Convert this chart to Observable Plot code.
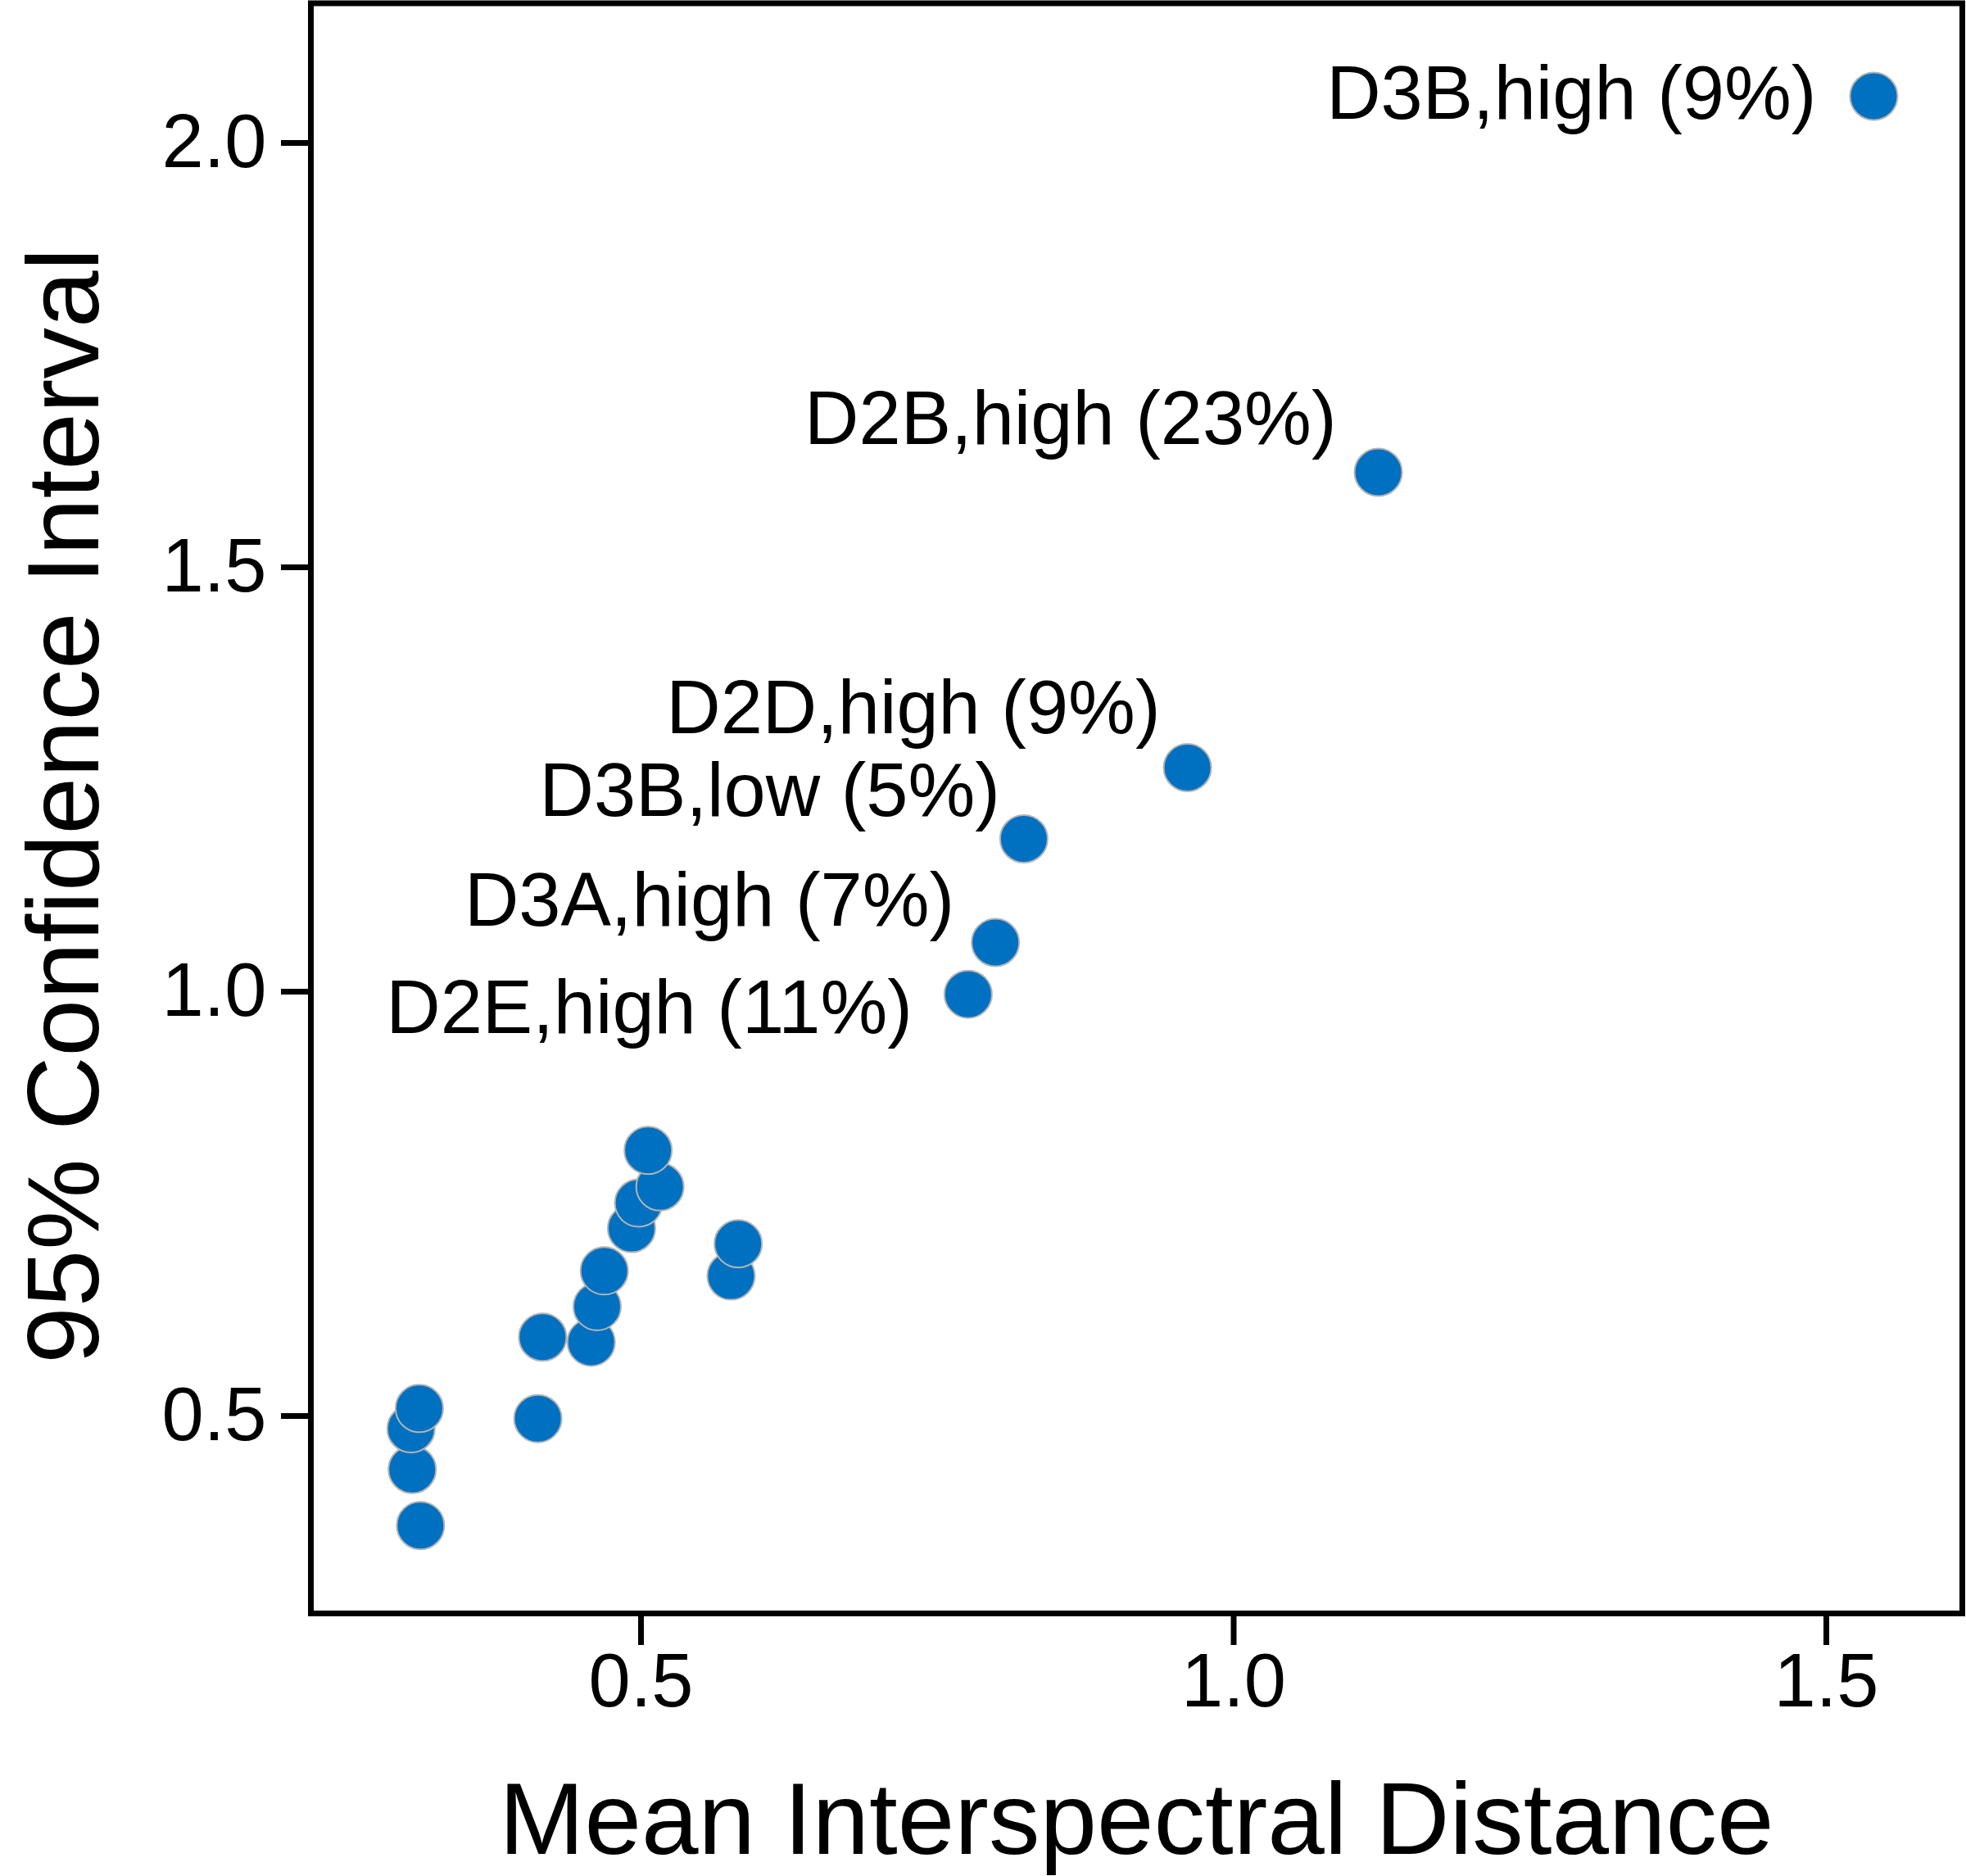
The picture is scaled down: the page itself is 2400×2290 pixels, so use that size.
<!DOCTYPE html>
<html>
<head>
<meta charset="utf-8">
<script src="https://cdn.jsdelivr.net/npm/d3@7"></script>
<script src="https://cdn.jsdelivr.net/npm/@observablehq/plot@0.6"></script>
<style>
  html, body { margin: 0; padding: 0; background: #fff; }
  svg { display: block; }
</style>
</head>
<body>
<script>
// ---- Data ----
const pointLabels = [
  "", "", "", "", "",
  "", "", "", "", "",
  "", "", "", "", "",
  "D2E,high (11%)", "D3A,high (7%)", "D3B,low (5%)", "D2D,high (9%)", "D2B,high (23%)", "D3B,high (9%)"
];
const meanDistance = [
  0.314, 0.307, 0.306, 0.313, 0.413,
  0.417, 0.458, 0.463, 0.469, 0.576,
  0.582, 0.492, 0.498, 0.516, 0.506,
  0.776, 0.799, 0.823, 0.961, 1.122, 1.540
];
const confInterval = [
  0.371, 0.437, 0.485, 0.509, 0.497,
  0.593, 0.587, 0.629, 0.671, 0.665,
  0.703, 0.721, 0.751, 0.770, 0.813,
  0.997, 1.058, 1.180, 1.264, 1.612, 2.055
];
const xTicks = [0.5, 1.0, 1.5];
const yTicks = [0.5, 1.0, 1.5, 2.0];
const xTitle = "Mean Interspectral Distance";
const yTitle = "95% Confidence Interval";

const points = meanDistance.map((x, i) => ({x, y: confInterval[i], label: pointLabels[i]}));

const FONT = "'Liberation Sans', Arial, Helvetica, sans-serif";
const BLUE = "#0070C0";

function labelMark(name, dx, dy) {
  return Plot.text(points.filter(d => d.label === name), {
    x: "x", y: "y", text: "label",
    textAnchor: "end", lineAnchor: "middle",
    dx, dy, fontSize: 92, fill: "black"
  });
}

const chart = Plot.plot({
  width: 2400,
  height: 2290,
  marginLeft: 379,
  marginRight: 5,
  marginTop: 3.5,
  marginBottom: 321,
  style: {fontFamily: FONT, fontSize: "92px", color: "black", background: "white", overflow: "visible"},
  x: {domain: [0.2215, 1.6147]},
  y: {domain: [0.2674, 2.1646]},
  marks: [
    Plot.axisX({ticks: xTicks, tickFormat: d => d.toFixed(1), tickSize: 39, tickPadding: 9,
      strokeWidth: 7, fontSize: 92, label: null}),
    Plot.axisY({ticks: yTicks, tickFormat: d => d.toFixed(1), tickSize: 36, tickPadding: 18,
      strokeWidth: 7, fontSize: 92, label: null}),
    Plot.dot(points, {x: "x", y: "y", r: 29, fill: BLUE, stroke: "#b4b4b4", strokeWidth: 2}),
    labelMark("D3B,high (9%)", -70, -2),
    labelMark("D2B,high (23%)", -51, -63.5),
    labelMark("D2D,high (9%)", -33, -71.5),
    labelMark("D3B,low (5%)", -29, -57.5),
    labelMark("D3A,high (7%)", -50, -49.5),
    labelMark("D2E,high (11%)", -68, 17.5),
    Plot.text([xTitle], {frameAnchor: "bottom", text: d => d, dy: 253, fontSize: 125,
      lineAnchor: "middle", textAnchor: "middle", fill: "black"}),
    Plot.text([yTitle], {frameAnchor: "left", text: d => d, dx: -300, dy: -3, rotate: -90,
      fontSize: 125, lineAnchor: "middle", textAnchor: "middle", fill: "black"}),
    Plot.frame({stroke: "black", strokeWidth: 7})
  ]
});
document.body.appendChild(chart);
</script>
</body>
</html>
